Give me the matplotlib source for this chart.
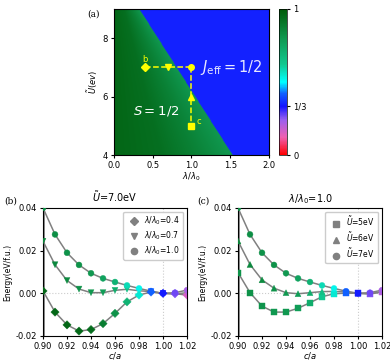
#!/usr/bin/env python
# -*- coding: utf-8 -*-

# phase diagram + energy curves vs c/a
import matplotlib
matplotlib.use("Agg")
import matplotlib.pyplot as plt
import numpy as np
from matplotlib.colors import LinearSegmentedColormap

plt.rcParams['font.size'] = 6
plt.rcParams['mathtext.fontset'] = 'dejavusans'
plt.rcParams['xtick.major.size'] = 2.5
plt.rcParams['ytick.major.size'] = 2.5
plt.rcParams['xtick.major.pad'] = 1.5
plt.rcParams['ytick.major.pad'] = 2

# ---- data ----
# phase boundary (U, lambda_c)
bound_U = [4.0, 9.0]
bound_lam = [1.53, 0.32]
# green shading vs fraction of the way to the boundary
green_frac = [0.0, 0.4, 0.7, 1.0]
green_val = [0.96, 0.93, 0.87, 0.80]
blue_val = 0.35

# path in the phase diagram
path_lam = [0.4, 0.7, 1.0, 1.0, 1.0]
path_U = [7.0, 7.0, 7.0, 6.0, 5.0]
path_mk = ['D', 'v', 'o', '^', 's']

ca = [0.90, 0.91, 0.92, 0.93, 0.94, 0.95, 0.96, 0.97, 0.98, 0.99, 1.00, 1.01, 1.02]

# panel (b): U = 7 eV
e_l04 = [0.0011, -0.0088, -0.0148, -0.0177, -0.0170, -0.0142, -0.0094, -0.0040,
         -0.0008, 0.0006, 0.0, -0.0002, -0.0008]
e_l07 = [0.0244, 0.0134, 0.0060, 0.0020, 0.0003, 0.0003, 0.0014, 0.0019,
         0.0012, 0.0008, 0.0, -0.0003, 0.0003]
e_l10 = [0.0400, 0.0276, 0.0190, 0.0133, 0.0094, 0.0070, 0.0053, 0.0037,
         0.0023, 0.0010, 0.0, 0.0003, 0.0015]
# panel (c): lambda = 1.0
e_u5 = [0.0097, 0.0003, -0.0060, -0.0088, -0.0088, -0.0070, -0.0044, -0.0016,
        -0.0002, 0.0001, 0.0, -0.0003, 0.0006]
e_u6 = [0.0245, 0.0135, 0.0063, 0.0024, 0.0003, -0.0002, 0.0003, 0.0008,
        0.0009, 0.0006, 0.0, -0.0002, 0.0008]
e_u7 = e_l10

# marker colour values (colour scale 0..1)
c_l04 = [0.96, 0.96, 0.96, 0.95, 0.94, 0.88, 0.82, 0.70, 0.55, 0.42, 0.34, 0.26, 0.16]
c_l07 = [0.86, 0.85, 0.84, 0.82, 0.80, 0.78, 0.72, 0.65, 0.55, 0.42, 0.34, 0.26, 0.20]
c_l10 = [0.83, 0.83, 0.82, 0.82, 0.80, 0.76, 0.70, 0.58, 0.52, 0.42, 0.34, 0.27, 0.22]
c_u5 = [0.82, 0.82, 0.81, 0.80, 0.80, 0.78, 0.72, 0.62, 0.55, 0.42, 0.34, 0.26, 0.22]
c_u6 = c_l07
c_u7 = c_l10

cmap = LinearSegmentedColormap.from_list("phase", [
    (0.0, "#ff0000"), (0.12, "#f060b0"), (0.24, "#9a60f0"), (0.333, "#1414ff"),
    (0.42, "#1060ff"), (0.5, "#00ffff"), (0.62, "#10c890"), (0.8, "#109850"),
    (1.0, "#005a08")])

fig = plt.figure(figsize=(3.9, 3.6), dpi=100)

# ---- (a) phase diagram ----
ax_a = fig.add_axes([0.2923, 0.5694, 0.3974, 0.4056])
lam = np.linspace(0, 2, 400)
U = np.linspace(4, 9, 250)
L, UU = np.meshgrid(lam, U)
lam_c = np.interp(UU, bound_U, bound_lam)
frac = np.clip(L / lam_c, 0, 1)
field = np.where(L < lam_c, np.interp(frac, green_frac, green_val), blue_val)
im = ax_a.imshow(field, origin='lower', extent=[0, 2, 4, 9], aspect='auto',
                 cmap=cmap, vmin=0, vmax=1)
ax_a.plot(path_lam[:3], path_U[:3], ls='--', color='#ffff00', lw=1.1)
ax_a.plot(path_lam[2:], path_U[2:], ls='--', color='#ffff00', lw=1.1)
for x, y, m in zip(path_lam, path_U, path_mk):
    ax_a.plot(x, y, marker=m, color='#ffff00', ms=4, ls='')
ax_a.text(0.4, 7.2, 'b', color='#ffff00', fontsize=6, ha='center')
ax_a.text(1.07, 5.05, 'c', color='#ffff00', fontsize=6)
ax_a.text(0.24, 5.4, r'$S = 1/2$', color='white', fontsize=9.5)
ax_a.text(1.11, 6.85, r'$J_{\rm eff} = 1/2$', color='#e8e8ff', fontsize=10.5)
ax_a.set_xlim(0, 2)
ax_a.set_ylim(4, 9)
ax_a.set_xticks([0.0, 0.5, 1.0, 1.5, 2.0])
ax_a.set_yticks([4, 6, 8])
ax_a.set_xlabel(r'$\lambda/\lambda_0$', labelpad=1)
ax_a.set_ylabel(r'$\tilde{U}(ev)$', labelpad=2)

cax = fig.add_axes([0.7154, 0.5694, 0.0205, 0.4056])
cb = fig.colorbar(im, cax=cax, ticks=[0, 1 / 3, 1])
cb.ax.set_yticklabels(['0', '1/3', '1'])
cb.outline.set_linewidth(0.5)

fig.text(0.225, 0.955, '(a)', family='serif', fontsize=6.5)


def energy_panel(ax, series, title):
    ax.axhline(0, color='#cccccc', ls=':', lw=0.8, zorder=0)
    ax.axvline(1.0, color='#cccccc', ls=':', lw=0.8, zorder=0)
    ax.axvline(0.90, color='grey', lw=2, zorder=1)
    for e, c, m, lab in series:
        ax.plot(ca, e, color='grey', lw=1.1, zorder=2)
        ax.scatter(ca, e, c=c, cmap=cmap, vmin=0, vmax=1, marker=m, s=18,
                   zorder=3, linewidths=0.3)
        ax.plot([], [], marker=m, color='grey', ls='', ms=4.5, label=lab)
    ax.set_xlim(0.90, 1.02)
    ax.set_ylim(-0.02, 0.04)
    ax.set_xticks([0.90, 0.92, 0.94, 0.96, 0.98, 1.00, 1.02])
    ax.set_yticks([-0.02, 0.00, 0.02, 0.04])
    ax.yaxis.set_major_formatter(plt.FormatStrFormatter('%.2f'))
    ax.set_xlabel(r'$c/a$', labelpad=-0.5)
    ax.set_ylabel('Energy(eV/f.u.)', fontsize=5.5, labelpad=2)
    ax.set_title(title, fontsize=7, pad=4)
    ax.legend(loc='upper right', fontsize=5.5, handletextpad=0.4,
              borderpad=0.4, labelspacing=0.3, framealpha=1)


ax_b = fig.add_axes([0.1103, 0.0667, 0.3692, 0.3556])
energy_panel(ax_b, [
    (e_l04, c_l04, 'D', r'$\lambda/\lambda_0$=0.4'),
    (e_l07, c_l07, 'v', r'$\lambda/\lambda_0$=0.7'),
    (e_l10, c_l10, 'o', r'$\lambda/\lambda_0$=1.0'),
], r'$\tilde{U}$=7.0eV')

ax_c = fig.add_axes([0.6103, 0.0667, 0.3692, 0.3556])
energy_panel(ax_c, [
    (e_u5, c_u5, 's', r'$\tilde{U}$=5eV'),
    (e_u6, c_u6, '^', r'$\tilde{U}$=6eV'),
    (e_u7, c_u7, 'o', r'$\tilde{U}$=7eV'),
], r'$\lambda/\lambda_0$=1.0')

fig.text(0.01, 0.435, '(b)', family='serif', fontsize=6.5)
fig.text(0.505, 0.435, '(c)', family='serif', fontsize=6.5)

fig.savefig('out.png', dpi=100)
